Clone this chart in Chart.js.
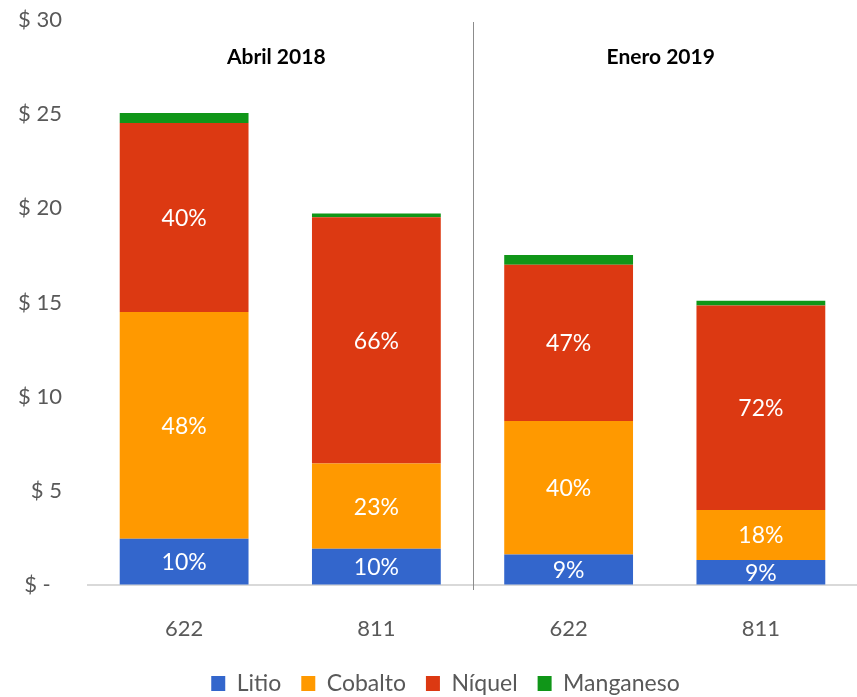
<!DOCTYPE html>
<html>
<head>
<meta charset="utf-8">
<script src="https://cdn.jsdelivr.net/npm/chart.js@4/dist/chart.umd.min.js"></script>
<style>
  html, body { margin: 0; padding: 0; background: #ffffff; }
  #wrap { width: 857px; height: 697px; position: relative; }
</style>
</head>
<body>
<div id="wrap"><canvas id="c"></canvas></div>
<script>
const categories = ['622', '811', '622', '811'];
const groupTitles = ['Abril 2018', 'Enero 2019'];
const seriesNames = ['Litio', 'Cobalto', 'Níquel', 'Manganeso'];
const litio = [2.45, 1.92, 1.62, 1.33];
const cobalto = [12.05, 4.53, 7.09, 2.65];
const niquel = [10.03, 13.07, 8.30, 10.86];
const manganeso = [0.53, 0.21, 0.51, 0.25];
const yTickLabels = ['$ -  ', '$ 5', '$ 10', '$ 15', '$ 20', '$ 25', '$ 30'];

const colors = ['#3366CC', '#FF9900', '#DC3912', '#109618'];
const FONT = 'Lato, "Liberation Sans", sans-serif';
const labelled = [true, true, true, false];

const totals = categories.map((_, i) => litio[i] + cobalto[i] + niquel[i] + manganeso[i]);

const overlay = {
  id: 'overlay',
  afterLayout(chart) {
    chart.legend.left += 34;
  },
  afterDatasetsDraw(chart) {
    const ctx = chart.ctx;
    const xs = chart.scales.x;
    const area = chart.chartArea;
    ctx.save();
    ctx.fillStyle = '#ffffff';
    ctx.font = '23px ' + FONT;
    ctx.textAlign = 'center';
    ctx.textBaseline = 'middle';
    chart.data.datasets.forEach((ds, di) => {
      if (!labelled[di]) return;
      const meta = chart.getDatasetMeta(di);
      meta.data.forEach((el, i) => {
        const pct = Math.round(ds.data[i] / totals[i] * 100) + '%';
        ctx.fillText(pct, el.x, (el.y + el.base) / 2 + 1);
      });
    });
    const sepX = (xs.getPixelForValue(1) + xs.getPixelForValue(2)) / 2;
    ctx.strokeStyle = '#8c8c8c';
    ctx.lineWidth = 1;
    ctx.beginPath();
    ctx.moveTo(Math.round(sepX) + 0.5, area.top + 2);
    ctx.lineTo(Math.round(sepX) + 0.5, area.bottom + 5);
    ctx.stroke();
    ctx.fillStyle = '#000000';
    ctx.font = 'bold 21px ' + FONT;
    groupTitles.forEach((t, g) => {
      const cx = (xs.getPixelForValue(g * 2) + xs.getPixelForValue(g * 2 + 1)) / 2;
      ctx.fillText(t, cx - 4, area.top + 37);
    });
    ctx.restore();
  }
};

const seriesData = [litio, cobalto, niquel, manganeso];

new Chart(document.getElementById('c'), {
  type: 'bar',
  data: {
    labels: categories,
    datasets: seriesNames.map((n, k) => ({
      label: n,
      data: seriesData[k],
      backgroundColor: colors[k],
      borderWidth: 0,
      barPercentage: 0.67,
      categoryPercentage: 1.0
    }))
  },
  options: {
    responsive: true,
    maintainAspectRatio: false,
    animation: false,
    layout: { padding: { top: 20, right: 0, left: 0, bottom: -8 } },
    plugins: {
      tooltip: { enabled: false },
      legend: {
        position: 'bottom',
        labels: {
          boxWidth: 14,
          boxHeight: 15,
          padding: 20,
          color: '#595959',
          font: { family: FONT, size: 23 }
        }
      }
    },
    scales: {
      x: {
        stacked: true,
        afterFit(scale) { scale.height = 67; },
        grid: { display: false, drawTicks: false },
        border: { display: true, color: '#d9d9d9', width: 2 },
        ticks: { color: '#595959', font: { family: FONT, size: 22 }, padding: 31 }
      },
      y: {
        stacked: true,
        min: 0,
        max: 30,
        afterFit(scale) { scale.width = 88; },
        grid: { display: true, drawOnChartArea: false, drawTicks: true, tickLength: 26, color: 'rgba(0,0,0,0)' },
        border: { display: false },
        ticks: {
          stepSize: 5,
          color: '#595959',
          padding: 0,
          font: { family: FONT, size: 22 },
          callback: (v) => yTickLabels[Math.round(v / 5)]
        }
      }
    }
  },
  plugins: [overlay]
});
</script>
</body>
</html>
